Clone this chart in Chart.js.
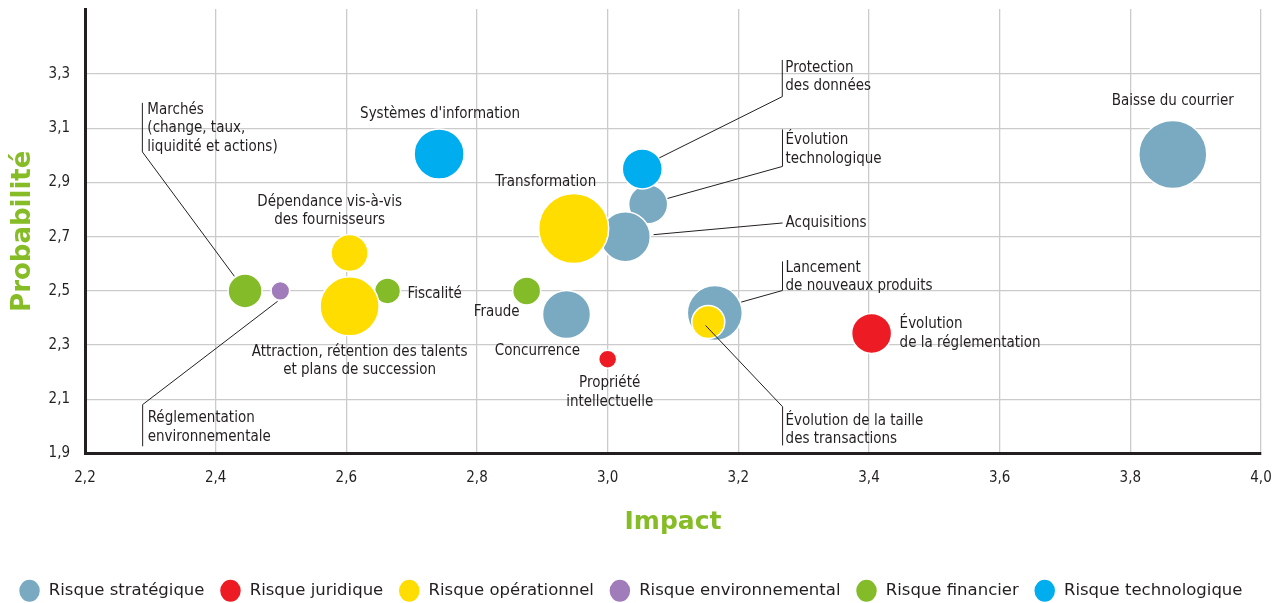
<!DOCTYPE html>
<html lang="fr">

<head>
  <meta charset="UTF-8">
  <title>Cartographie des risques</title>
  <script src="https://cdn.jsdelivr.net/npm/chart.js"></script>
  <style>
    html,
    body {
      margin: 0;
      padding: 0;
      background: #ffffff;
      overflow: hidden;
    }

    canvas {
      display: block;
    }
  </style>
</head>

<body>
  <canvas id="riskChart" width="1279" height="609"></canvas>

  <script>
    // categories (legend order) and their colours
    const categories = ['Risque stratégique', 'Risque juridique', 'Risque opérationnel',
      'Risque environnemental', 'Risque financier', 'Risque technologique'];
    const categoryColours = ['#7aaac1', '#ed1c24', '#ffdd00', '#a17cba', '#84bb29', '#00adee'];

    // one entry per risk
    const riskNames = [
      'Baisse du courrier',
      'Concurrence',
      'Lancement\nde nouveaux produits',
      'Évolution\ntechnologique',
      'Acquisitions',
      'Propriété\nintellectuelle',
      'Évolution\nde la réglementation',
      'Dépendance vis-à-vis\ndes fournisseurs',
      'Attraction, rétention des talents\net plans de succession',
      'Transformation',
      'Évolution de la taille\ndes transactions',
      'Réglementation\nenvironnementale',
      'Marchés\n(change, taux,\nliquidité et actions)',
      'Fiscalité',
      'Fraude',
      "Systèmes d'information",
      'Protection\ndes données'
    ];
    const riskCategory = [0, 0, 0, 0, 0, 1, 1, 2, 2, 2, 2, 3, 4, 4, 4, 5, 5];
    const impact = [3.865, 2.937, 3.164, 3.062, 3.027, 3.0, 3.404, 2.605, 2.605, 2.948, 3.154,
      2.499, 2.445, 2.663, 2.876, 2.742, 3.053];
    const probability = [3.003, 2.413, 2.418, 2.82, 2.70, 2.248, 2.343, 2.64, 2.443, 2.73, 2.385,
      2.50, 2.50, 2.50, 2.50, 3.005, 2.95];
    const bubbleSize = [34, 24, 27.5, 19.5, 25, 9, 20, 18.5, 29.5, 35, 16.5, 9.3, 17, 13, 14, 25, 20];

    // axis ticks
    const xTicks = [2.2, 2.4, 2.6, 2.8, 3.0, 3.2, 3.4, 3.6, 3.8, 4.0];
    const yTicks = [1.9, 2.1, 2.3, 2.5, 2.7, 2.9, 3.1, 3.3];

    // label placement, pixel offsets from the bubble centre (same order as riskNames)
    const labelPlacement = [
      { align: 'center', dx: 0, dy: -53 },
      { align: 'center', dx: -29, dy: 37 },
      { align: 'left', dx: 70.7, dy: -45.3, bar: [67.7, -51.6, -22.6], line: [67.7, -22.6, 26.4, -11] },
      { align: 'left', dx: 137.3, dy: -63.7, bar: [134.3, -74.7, -37.7], line: [134.3, -37.7, 19.3, -5.7] },
      { align: 'left', dx: 160.3, dy: -13.7, line: [157.3, -13.7, 28.3, -2] },
      { align: 'center', dx: 2, dy: 24 },
      { align: 'left', dx: 28, dy: -9 },
      { align: 'center', dx: -20, dy: -51 },
      { align: 'center', dx: 10, dy: 45.5 },
      { align: 'center', dx: -28, dy: -46 },
      { align: 'left', dx: 77.3, dy: 98.7, bar: [74.3, 84.7, 123.4], line: [74.3, 84.7, -2.7, 3.4] },
      { align: 'left', dx: -132.7, dy: 127.7, bar: [-137.7, 113.7, 155.4], line: [-137.7, 113.7, -2.7, 10.4] },
      { align: 'left', dx: -97.7, dy: -181, bar: [-102.7, -188, -139], line: [-102.7, -139, -10.7, -14.6] },
      { align: 'left', dx: 20, dy: 3 },
      { align: 'right', dx: -7, dy: 21 },
      { align: 'center', dx: 1, dy: -40 },
      { align: 'left', dx: 143, dy: -101, bar: [140, -109, -72.3], line: [140, -72.3, 17, -11] }
    ];

    const textColour = '#231f20';
    const green = '#86bc25';
    const labelFont = '15px "DejaVu Sans Condensed", "DejaVu Sans", sans-serif';
    const lineHeight = 18.5;

    const datasets = categories.map((cat, c) => {
      const points = [];
      riskNames.forEach((name, i) => {
        if (riskCategory[i] === c) {
          points.push({ x: impact[i], y: probability[i], r: bubbleSize[i], idx: i });
        }
      });
      return {
        label: cat,
        data: points,
        backgroundColor: categoryColours[c],
        borderColor: '#ffffff',
        borderWidth: 1.5,
        hoverBackgroundColor: categoryColours[c],
        hoverBorderColor: '#ffffff'
      };
    });
    // drawing order: technology on top, then operational, ..., strategic at the bottom
    const drawOrder = [5, 3, 1, 4, 2, 0];
    datasets.forEach((ds, c) => { ds.order = drawOrder[c]; });

    const fmt = v => Number(v).toFixed(1).replace('.', ',');

    const riskLabels = {
      id: 'riskLabels',
      afterDatasetsDraw(chart) {
        const ctx = chart.ctx;
        ctx.save();
        ctx.font = labelFont;
        ctx.fillStyle = textColour;
        ctx.strokeStyle = textColour;
        ctx.lineWidth = 1;
        ctx.textBaseline = 'middle';
        chart.data.datasets.forEach((ds, di) => {
          chart.getDatasetMeta(di).data.forEach((el, j) => {
            const i = ds.data[j].idx;
            const p = labelPlacement[i];
            const cx = el.x, cy = el.y;
            if (p.bar) {
              ctx.beginPath();
              ctx.moveTo(cx + p.bar[0], cy + p.bar[1]);
              ctx.lineTo(cx + p.bar[0], cy + p.bar[2]);
              ctx.stroke();
            }
            if (p.line) {
              ctx.beginPath();
              ctx.moveTo(cx + p.line[0], cy + p.line[1]);
              ctx.lineTo(cx + p.line[2], cy + p.line[3]);
              ctx.stroke();
            }
            ctx.textAlign = p.align;
            riskNames[i].split('\n').forEach((txt, k) => {
              ctx.fillText(txt, cx + p.dx, cy + p.dy + k * lineHeight);
            });
          });
        });
        ctx.restore();
      }
    };

    const ctx1 = document.getElementById('riskChart').getContext('2d');
    new Chart(ctx1, {
      type: 'bubble',
      data: { datasets: datasets },
      plugins: [riskLabels],
      options: {
        responsive: false,
        maintainAspectRatio: false,
        animation: false,
        layout: {
          autoPadding: false,
          padding: { left: 0, right: 18, top: 8, bottom: 0 }
        },
        scales: {
          x: {
            type: 'linear',
            min: 2.2,
            max: 4.0,
            afterBuildTicks: scale => { scale.ticks = xTicks.map(v => ({ value: v })); },
            afterFit: scale => { scale.height = 114; },
            ticks: {
              color: textColour,
              padding: 0,
              font: { family: '"DejaVu Sans Condensed", "DejaVu Sans"', size: 15 },
              callback: v => fmt(v)
            },
            grid: { color: '#cbcbcb', lineWidth: 1.3, drawTicks: true, tickLength: 16, tickColor: 'rgba(0,0,0,0)' },
            border: { display: true, color: textColour, width: 3 },
            title: {
              display: true,
              text: 'Impact',
              color: green,
              font: { family: '"DejaVu Sans"', size: 25, weight: 'bold' },
              padding: { top: 0, bottom: 30.5 }
            }
          },
          y: {
            type: 'linear',
            min: 1.9,
            max: 3.54,
            afterBuildTicks: scale => { scale.ticks = yTicks.map(v => ({ value: v })); },
            afterFit: scale => { scale.width = 85; },
            ticks: {
              color: textColour,
              padding: 0,
              font: { family: '"DejaVu Sans Condensed", "DejaVu Sans"', size: 15 },
              callback: v => fmt(v)
            },
            grid: { color: '#cbcbcb', lineWidth: 1.3, drawTicks: true, tickLength: 15, tickColor: 'rgba(0,0,0,0)' },
            border: { display: true, color: textColour, width: 3 },
            title: {
              display: true,
              text: 'Probabilité',
              color: green,
              font: { family: '"DejaVu Sans"', size: 26, weight: 'bold' },
              padding: { top: 8, bottom: 0 }
            }
          }
        },
        plugins: {
          tooltip: { enabled: false },
          legend: {
            display: true,
            position: 'bottom',
            labels: {
              usePointStyle: true,
              pointStyle: 'circle',
              pointStyleWidth: 22,
              padding: 15,
              color: textColour,
              font: { family: '"DejaVu Sans"', size: 16.5 },
              sort: (a, b) => a.datasetIndex - b.datasetIndex
            }
          }
        }
      }
    });
  </script>
</body>

</html>
